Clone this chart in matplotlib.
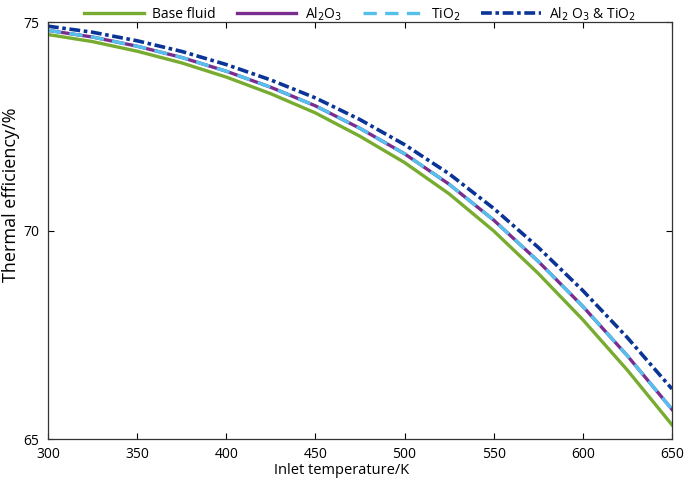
import matplotlib
matplotlib.use("Agg")
import matplotlib.pyplot as plt

plt.rcParams['font.family'] = ['Open Sans', 'DejaVu Sans']

temperature = [300, 325, 350, 375, 400, 425, 450, 475, 500, 525, 550, 575, 600, 625, 650]
base_fluid = [74.70, 74.53, 74.30, 74.02, 73.68, 73.28, 72.82, 72.26, 71.63, 70.88, 69.99, 68.97, 67.86, 66.65, 65.34]
al2o3 = [74.80, 74.64, 74.42, 74.15, 73.82, 73.435, 72.99, 72.45, 71.84, 71.11, 70.25, 69.26, 68.18, 66.995, 65.71]
tio2 = [74.80, 74.64, 74.42, 74.15, 73.82, 73.435, 72.99, 72.45, 71.84, 71.11, 70.25, 69.26, 68.18, 66.995, 65.71]
hybrid = [74.90, 74.755, 74.55, 74.295, 73.98, 73.61, 73.18, 72.66, 72.06, 71.36, 70.53, 69.595, 68.56, 67.43, 66.20]

labels = ["Base fluid", "Al$_2$O$_3$", "TiO$_2$", "Al$_2$ O$_3$ & TiO$_2$"]
xticks = [300, 350, 400, 450, 500, 550, 600, 650]
yticks = [65, 70, 75]

fig = plt.figure(figsize=(6.85, 4.86), dpi=100)
ax = fig.add_axes([0.070, 0.0967, 0.911, 0.858])

ax.plot(temperature, base_fluid, color='#77ac30', lw=2.4, label=labels[0])
ax.plot(temperature, al2o3, color='#7b2d8e', lw=2.4, label=labels[1])
ax.plot(temperature, tio2, color='#55c0ec', lw=2.4, ls=(0, (4, 2.5)), label=labels[2])
ax.plot(temperature, hybrid, color='#0a3496', lw=2.6, ls=(0, (3, 1, 1, 1)), label=labels[3])

ax.set_xlim(300, 650)
ax.set_ylim(65, 75)
ax.set_xticks(xticks)
ax.set_yticks(yticks)
ax.tick_params(direction='in', top=True, right=True, length=4, labelsize=10, width=0.8)
ax.tick_params(axis='x', pad=6)
ax.tick_params(axis='y', pad=6)
for s in ax.spines.values():
    s.set_linewidth(0.9)
    s.set_color('#333333')
ax.set_xlabel("Inlet temperature/K", fontsize=10.5)
ax.xaxis.set_label_coords(0.47, -0.058)
ax.set_ylabel("Thermal efficiency/%", fontsize=13)
ax.yaxis.set_label_coords(-0.044, 0.586)

ax.legend(loc='lower center', bbox_to_anchor=(0.50, 0.985), ncol=4, frameon=False,
          fontsize=10, handlelength=4.3, handletextpad=0.6, columnspacing=1.5,
          borderaxespad=0.0)

fig.savefig("out.png", dpi=100)
